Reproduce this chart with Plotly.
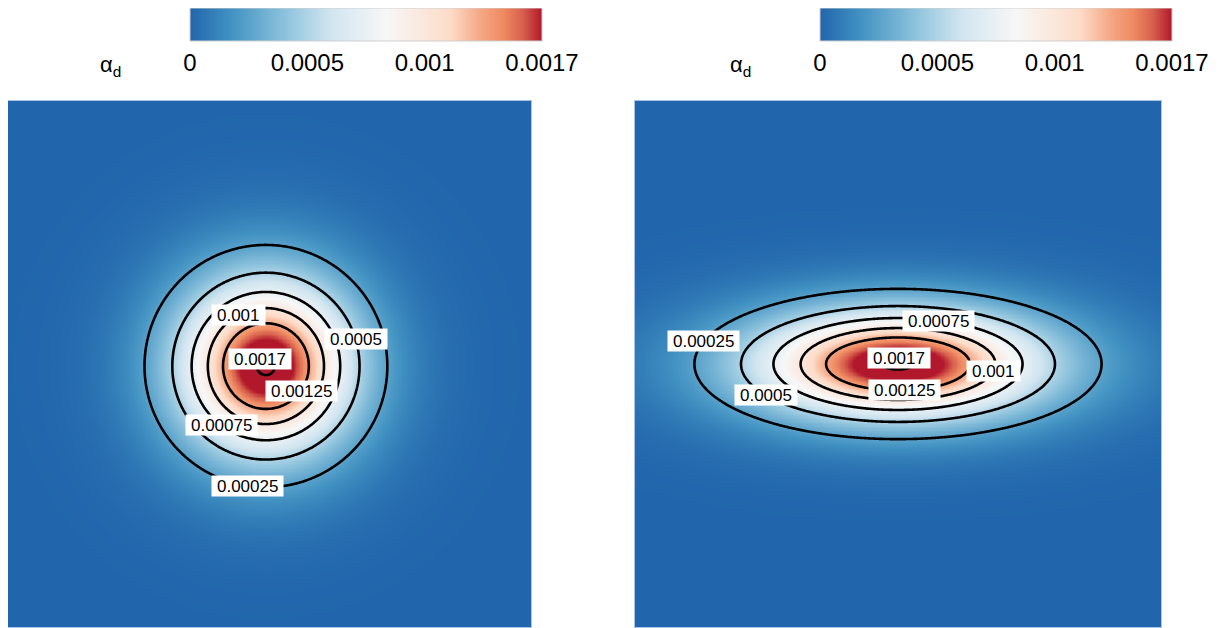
import numpy as np
import plotly.graph_objects as go

# ---------------- data ----------------
levels_main = [0.00025, 0.0005, 0.00075, 0.001, 0.00125]
level_peak = [0.0017]
level_labels = ["0.00025", "0.0005", "0.00075", "0.001", "0.00125", "0.0017"]
label_levels = [0.00025, 0.0005, 0.00075, 0.001, 0.00125, 0.0017]

cbar_ticktext = ["0", "0.0005", "0.001", "0.0017"]
# where each tick label sits along the colour bar, as a fraction of its length
cbar_tickpos = [0.0, 1 / 3, 2 / 3, 1.0]
# values that the colour bar actually maps to those positions (the bar saturates early)
colour_map_vals = [0.0, 0.0005, 0.001, 0.0015]

# field parameters per panel (left, right)
peak_value = [0.00174, 0.00174]
centre_x = [-0.006, 0.0]
centre_y = [-0.008, 0.0]
stretch_x = [1.0, 1.68]
stretch_y = [1.0, 0.62]
decay_len = [0.312, 0.312]
decay_pow = [1.7, 1.7]

# angle (deg) at which each contour label sits, per panel
label_angle_left = [-98.5, 16.6, -127.0, 118.7, -35.0, 128.0]
label_angle_right = [162.5, 212.8, 71.0, -12.0, -85.0, 85.0]

# ---------------- styling ----------------
OFF = 8                      # page body margin
W, H = 1224 - OFF, 628 - OFF
FONT = "Arial, Liberation Sans, sans-serif"
colorscale = [
    [0.00, "#2166ac"],
    [0.12, "#4393c3"],
    [0.28, "#92c5de"],
    [0.40, "#d1e5f0"],
    [0.56, "#f7f7f7"],
    [0.74, "#fddbc7"],
    [0.83, "#f4a582"],
    [0.89, "#ef8a62"],
    [0.945, "#d6604d"],
    [1.00, "#b2182b"],
]


def px_x(p):
    return (p - OFF) / W


def px_y(p):
    return 1 - (p - OFF) / H


grid = np.linspace(-1, 1, 401)
GX, GY = np.meshgrid(grid, grid)


def field(i):
    r = np.sqrt(((GX - centre_x[i]) / stretch_x[i]) ** 2 + ((GY - centre_y[i]) / stretch_y[i]) ** 2)
    return peak_value[i] * np.exp(-((r / decay_len[i]) ** decay_pow[i]))


def contour_radius(i, level):
    return decay_len[i] * np.log(peak_value[i] / level) ** (1.0 / decay_pow[i])


def text_width(s, size):
    return sum(0.278 if c == "." else 0.556 for c in s) * size


fig = go.Figure()
cbar_x = [190, 820]
title_x = [110, 740]
axes = [("x", "y"), ("x2", "y2")]
angles = [label_angle_left, label_angle_right]

for i in range(2):
    xa, ya = axes[i]
    z = field(i)
    zc = np.interp(z, colour_map_vals, cbar_tickpos)   # position on the colour bar
    fig.add_trace(go.Heatmap(
        x=grid, y=grid, z=zc, xaxis=xa, yaxis=ya,
        zmin=0, zmax=1, colorscale=colorscale, zsmooth="best",
        hoverinfo="skip",
        colorbar=dict(
            orientation="h", x=px_x(cbar_x[i]), xanchor="left",
            y=1.0, yanchor="top",
            len=352, lenmode="pixels", thickness=33, thicknessmode="pixels",
            outlinewidth=1, outlinecolor="#cfcfcf",
            tickvals=cbar_tickpos, ticktext=cbar_ticktext, ticks="",
            tickfont=dict(size=24, color="black", family=FONT),
            xpad=0, ypad=0, borderwidth=0,
        ),
    ))
    fig.add_trace(go.Contour(
        x=grid, y=grid, z=z, xaxis=xa, yaxis=ya,
        contours=dict(start=levels_main[0], end=levels_main[-1],
                      size=levels_main[1] - levels_main[0], coloring="none"),
        line=dict(color="black", width=2.6), showscale=False, hoverinfo="skip",
    ))
    fig.add_trace(go.Contour(
        x=grid, y=grid, z=z, xaxis=xa, yaxis=ya,
        contours=dict(start=level_peak[0], end=level_peak[0], size=0.0001, coloring="none"),
        line=dict(color="black", width=2.6), showscale=False, hoverinfo="skip",
    ))
    for lab, lev, ang in zip(level_labels, label_levels, angles[i]):
        rr = contour_radius(i, lev)
        t = np.deg2rad(ang)
        ax_ = centre_x[i] + rr * stretch_x[i] * np.cos(t)
        ay_ = centre_y[i] + rr * stretch_y[i] * np.sin(t)
        fig.add_annotation(
            x=ax_, y=ay_, xref=xa, yref=ya, text=lab, showarrow=False,
            xanchor="center", yanchor="middle",
            font=dict(size=17, color="black", family=FONT),
            bgcolor="white", borderpad=0,
            width=text_width(lab, 17) + 10, height=20,
        )
    # colour bar title
    fig.add_annotation(
        x=px_x(title_x[i]), y=px_y(66), xref="paper", yref="paper",
        xanchor="center", yanchor="middle",
        text="α<sub>d</sub>", showarrow=False,
        font=dict(size=22, color="black", family=FONT),
    )

ax_common = dict(visible=True, showgrid=False, zeroline=False,
                 showticklabels=False, ticks="", showline=True, mirror=True,
                 linecolor="#a9c4e4", linewidth=1)
PX_PER_UNIT = 263.5
left_start = max(4, OFF)
ydom = [px_y(627), px_y(101)]
fig.update_layout(
    width=W, height=H, margin=dict(l=0, r=0, t=0, b=0),
    paper_bgcolor="white", plot_bgcolor="white", showlegend=False,
    xaxis=dict(domain=[px_x(left_start), px_x(531)], anchor="y",
               range=[-1 + (left_start - 4) / PX_PER_UNIT, 1], **ax_common),
    yaxis=dict(domain=ydom, anchor="x", range=[-1, 1], **ax_common),
    xaxis2=dict(domain=[px_x(635), px_x(1161)], anchor="y2", range=[-1, 1], **ax_common),
    yaxis2=dict(domain=ydom, anchor="x2", range=[-1, 1], **ax_common),
    font=dict(family=FONT),
)

fig.write_html("out.html")
